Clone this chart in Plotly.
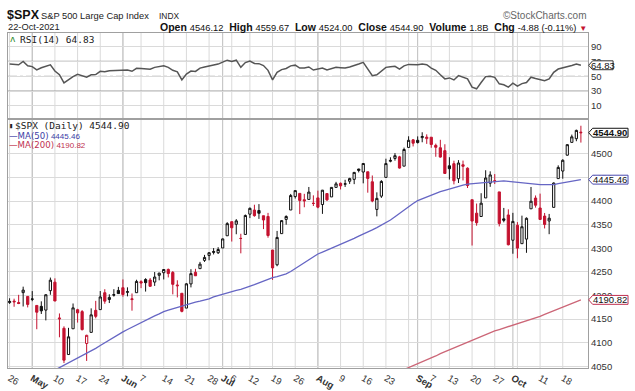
import plotly.graph_objects as go

# ---------------- data (S&P 500 daily, 26-Apr-2021 .. 22-Oct-2021) ----------------
dates = (["Apr 26", "Apr 27", "Apr 28", "Apr 29", "Apr 30"] +
         ["May %d" % d for d in [3, 4, 5, 6, 7, 10, 11, 12, 13, 14, 17, 18, 19, 20, 21, 24, 25, 26, 27, 28]] +
         ["Jun %d" % d for d in [1, 2, 3, 4, 7, 8, 9, 10, 11, 14, 15, 16, 17, 18, 21, 22, 23, 24, 25, 28, 29, 30]] +
         ["Jul %d" % d for d in [1, 2, 6, 7, 8, 9, 12, 13, 14, 15, 16, 19, 20, 21, 22, 23, 26, 27, 28, 29, 30]] +
         ["Aug %d" % d for d in [2, 3, 4, 5, 6, 9, 10, 11, 12, 13, 16, 17, 18, 19, 20, 23, 24, 25, 26, 27, 30, 31]] +
         ["Sep %d" % d for d in [1, 2, 3, 7, 8, 9, 10, 13, 14, 15, 16, 17, 20, 21, 22, 23, 24, 27, 28, 29, 30]] +
         ["Oct %d" % d for d in [1, 4, 5, 6, 7, 8, 11, 12, 13, 14, 15, 18, 19, 20, 21, 22]])

prev_close = 4180.17

opens = [4185.03, 4188.25, 4185.14, 4206.14, 4198.10, 4191.98, 4179.04, 4177.06, 4169.14, 4210.34,
         4228.29, 4150.34, 4130.55, 4074.99, 4129.58, 4169.92, 4165.94, 4098.45, 4121.97, 4168.61,
         4170.16, 4205.94, 4191.59, 4201.94, 4210.77,
         4216.52, 4206.82, 4191.43, 4206.05, 4229.34, 4233.81, 4232.99, 4228.56, 4242.90, 4248.31,
         4255.28, 4248.87, 4220.37, 4204.78, 4173.40, 4224.61, 4249.27, 4256.97, 4274.45, 4284.90,
         4293.21, 4290.65,
         4300.73, 4326.60, 4356.46, 4351.01, 4321.07, 4329.38, 4372.41, 4381.07, 4380.11, 4369.02,
         4367.43, 4296.40, 4265.11, 4331.13, 4361.27, 4381.20, 4409.58, 4416.38, 4402.95, 4403.59,
         4395.12,
         4406.86, 4392.74, 4415.95, 4408.86, 4429.07, 4437.77, 4435.79, 4442.18, 4446.08, 4464.84,
         4461.65, 4462.12, 4440.94, 4382.44, 4410.56, 4450.29, 4484.40, 4490.45, 4493.75, 4474.10,
         4513.76, 4529.75,
         4528.80, 4534.48, 4532.42, 4535.38, 4518.09, 4513.02, 4506.92, 4474.81, 4479.33, 4447.49,
         4477.09, 4469.74, 4402.95, 4374.45, 4367.43, 4406.75, 4438.04, 4442.12, 4419.54, 4362.41,
         4370.67,
         4317.16, 4348.84, 4309.87, 4319.57, 4383.73, 4406.51, 4385.44, 4368.31, 4358.01, 4386.75,
         4447.69, 4463.72, 4497.34, 4524.42, 4532.24, 4546.12]

highs = [4194.19, 4193.35, 4201.53, 4218.78, 4198.10, 4209.39, 4179.04, 4187.72, 4202.70, 4238.04,
         4236.39, 4162.04, 4134.73, 4131.58, 4183.13, 4171.92, 4169.15, 4116.93, 4172.80, 4188.72,
         4209.52, 4213.42, 4202.61, 4213.38, 4218.36,
         4234.12, 4217.37, 4204.39, 4233.45, 4232.34, 4236.74, 4237.09, 4249.74, 4248.38, 4255.59,
         4257.16, 4251.89, 4232.29, 4204.78, 4226.24, 4255.84, 4256.60, 4271.28, 4286.12, 4292.14,
         4300.52, 4302.43,
         4320.66, 4355.43, 4356.46, 4361.88, 4330.88, 4371.60, 4386.68, 4392.37, 4393.68, 4369.02,
         4375.09, 4296.40, 4336.84, 4359.70, 4369.87, 4415.18, 4422.73, 4416.38, 4415.47, 4429.97,
         4412.25,
         4422.18, 4423.79, 4416.17, 4429.76, 4440.82, 4439.39, 4445.21, 4449.44, 4461.77, 4468.37,
         4480.26, 4462.12, 4454.32, 4418.61, 4444.35, 4489.88, 4492.81, 4501.71, 4495.90, 4513.33,
         4537.36, 4531.39,
         4537.11, 4545.85, 4541.45, 4535.38, 4521.79, 4529.90, 4520.47, 4492.99, 4485.68, 4486.87,
         4485.87, 4471.52, 4402.95, 4394.87, 4416.75, 4465.40, 4463.12, 4457.30, 4419.54, 4385.57,
         4382.55,
         4375.19, 4355.51, 4369.23, 4365.57, 4429.97, 4412.02, 4415.88, 4374.89, 4372.87, 4439.73,
         4475.82, 4488.75, 4520.40, 4540.87, 4551.44, 4559.67]

lows = [4182.36, 4176.22, 4181.78, 4176.81, 4174.85, 4188.03, 4128.59, 4160.94, 4147.33, 4201.64,
        4188.13, 4111.53, 4056.88, 4074.99, 4129.58, 4142.69, 4125.99, 4061.41, 4121.97, 4151.72,
        4170.16, 4182.52, 4184.11, 4197.78, 4203.57,
        4197.59, 4198.27, 4167.93, 4206.05, 4215.66, 4208.41, 4218.74, 4220.34, 4232.25, 4234.07,
        4238.35, 4202.45, 4196.05, 4164.40, 4173.40, 4217.27, 4241.43, 4256.97, 4271.16, 4274.67,
        4287.04, 4287.96,
        4300.73, 4326.60, 4314.37, 4329.79, 4289.37, 4329.38, 4364.03, 4366.92, 4362.36, 4340.70,
        4322.53, 4233.13, 4262.05, 4331.13, 4350.06, 4381.20, 4405.45, 4372.51, 4387.01, 4403.59,
        4389.65,
        4384.81, 4373.00, 4400.23, 4408.86, 4429.07, 4424.74, 4430.03, 4436.42, 4435.96, 4460.82,
        4437.66, 4417.83, 4397.59, 4367.73, 4406.80, 4450.29, 4482.28, 4485.66, 4468.99, 4474.10,
        4513.76, 4515.80,
        4522.02, 4524.66, 4521.30, 4513.00, 4493.95, 4492.07, 4457.66, 4445.70, 4435.46, 4438.37,
        4443.80, 4427.76, 4305.91, 4347.96, 4367.43, 4406.75, 4430.27, 4436.19, 4346.33, 4355.08,
        4306.24,
        4288.52, 4278.94, 4309.87, 4290.49, 4383.73, 4386.22, 4360.59, 4342.09, 4329.92, 4386.75,
        4447.69, 4447.47, 4496.41, 4524.40, 4526.89, 4524.00]

closes = [4187.62, 4186.72, 4183.18, 4211.47, 4181.17, 4192.66, 4164.66, 4167.59, 4201.62, 4232.60,
          4188.43, 4152.10, 4063.04, 4112.50, 4173.85, 4163.29, 4127.83, 4115.68, 4159.12, 4155.86,
          4197.05, 4188.13, 4195.99, 4200.88, 4204.11,
          4202.04, 4208.12, 4192.85, 4229.89, 4226.52, 4227.26, 4219.55, 4239.18, 4247.44, 4255.15,
          4246.59, 4223.70, 4221.86, 4166.45, 4224.79, 4246.44, 4241.84, 4266.49, 4280.70, 4290.61,
          4291.80, 4297.50,
          4319.94, 4352.34, 4343.54, 4358.13, 4320.82, 4369.55, 4384.63, 4369.21, 4374.30, 4360.03,
          4327.16, 4258.49, 4323.06, 4358.69, 4367.48, 4411.79, 4422.30, 4401.46, 4400.64, 4419.15,
          4395.26,
          4387.16, 4423.15, 4402.66, 4429.10, 4436.52, 4432.35, 4436.75, 4447.70, 4460.83, 4468.00,
          4479.71, 4448.08, 4400.27, 4405.80, 4441.67, 4479.53, 4486.23, 4496.19, 4470.00, 4509.37,
          4528.79, 4522.68,
          4524.09, 4536.95, 4535.43, 4520.03, 4514.07, 4493.28, 4458.58, 4468.73, 4443.05, 4480.70,
          4473.75, 4432.99, 4357.73, 4354.19, 4395.64, 4448.98, 4455.48, 4443.11, 4352.63, 4359.46,
          4307.54,
          4357.04, 4300.46, 4345.72, 4363.55, 4399.76, 4391.34, 4361.19, 4350.65, 4363.80, 4438.26,
          4471.37, 4486.46, 4519.63, 4536.19, 4549.78, 4544.90]

ma50 = [None, None, None, None, None, None, None, None, 4032, 4037,
        4042, 4047, 4052, 4057, 4062, 4067, 4072, 4077, 4082, 4088,
        4094, 4100, 4106, 4112, 4117, 4123, 4128, 4133, 4138, 4143,
        4148, 4152, 4157, 4161, 4166, 4169, 4172, 4175, 4178, 4181,
        4184, 4186, 4188, 4190, 4193, 4197, 4200, 4202, 4205, 4208,
        4211, 4213, 4216, 4219, 4223, 4227, 4231, 4235, 4238, 4240,
        4243, 4246, 4251, 4257, 4263, 4270, 4276, 4282, 4288, 4292,
        4296, 4300, 4304, 4308, 4312, 4317, 4321, 4326, 4330, 4335,
        4339, 4344, 4349, 4354, 4360, 4367, 4374, 4382, 4389, 4395,
        4401, 4405, 4409, 4413, 4417, 4420, 4423, 4426, 4429, 4432,
        4434, 4436, 4437, 4438, 4438, 4439, 4440, 4442, 4443, 4443,
        4442, 4441, 4439, 4438, 4437, 4436, 4436, 4435, 4435, 4435,
        4435, 4437, 4439, 4441, 4443, 4445, 4445.46]

ma200 = [None] * 85 + [4035, 4039, 4043, 4047, 4051,
                       4056, 4060, 4064, 4068, 4072, 4077, 4081, 4086, 4090, 4094,
                       4098, 4102, 4105, 4109, 4113, 4117, 4121, 4125, 4128, 4131,
                       4134, 4137, 4140, 4143, 4146, 4149, 4152, 4156, 4160, 4164,
                       4167, 4171, 4175, 4179, 4183, 4187, 4190.82]

rsi = [66.4, 66.0, 65.5, 70.0, 64.2, 63.0, 58.6, 61.5, 63.5, 65.5,
       57.0, 52.0, 41.0, 45.5, 49.5, 52.5, 50.5, 48.7, 52.0, 52.2,
       56.7, 56.0, 57.5, 57.8, 58.2, 58.4, 58.4, 56.7, 60.7, 60.3,
       60.0, 59.5, 62.0, 63.0, 64.0, 62.0, 58.0, 56.0, 45.0, 53.0,
       57.0, 56.5, 61.0, 62.5, 64.0, 64.5, 66.4, 69.0, 71.7, 70.0,
       71.7, 62.0, 68.5, 70.5, 67.3, 67.0, 64.5, 58.0, 45.0, 55.3,
       59.0, 60.5, 64.0, 65.0, 61.0, 61.0, 62.5, 58.4, 60.0, 61.0,
       58.4, 60.5, 62.0, 61.5, 61.0, 62.5, 64.0, 66.5, 68.7, 60.0,
       50.8, 52.0, 57.0, 62.0, 62.8, 63.5, 59.7, 64.0, 66.0, 65.5,
       65.5, 66.4, 65.5, 61.0, 58.0, 52.0, 46.4, 47.7, 45.0, 50.8,
       49.0, 46.4, 35.3, 33.0, 41.5, 49.5, 50.0, 48.5, 39.7, 38.5,
       35.3, 40.7, 36.7, 40.0, 41.5, 48.7, 47.0, 45.0, 44.0, 46.4,
       55.3, 59.7, 61.0, 62.8, 64.5, 66.4, 64.83]

tick_idx = [0, 5, 10, 15, 20, 25, 29, 34, 39, 44, 47, 49, 53, 58, 63, 68, 73, 78, 83,
            90, 93, 97, 102, 107, 111, 117, 122]
tick_text = ["26", "<b>May</b>", "10", "17", "24", "<b>Jun</b>", "7", "14", "21", "28",
             "<b>Jul</b>", "6", "12", "19", "26", "<b>Aug</b>", "9", "16", "23",
             "<b>Sep</b>", "7", "13", "20", "27", "<b>Oct</b>", "11", "18"]
week_starts = [0, 5, 10, 15, 20, 25, 29, 34, 39, 44, 49, 53, 58, 63, 68, 73, 78, 83, 88,
               93, 97, 102, 107, 112, 117, 122]
month_starts = [5, 25, 47, 68, 90, 111]

price_ticks = [4050, 4100, 4150, 4200, 4250, 4300, 4350, 4400, 4450, 4500]
rsi_ticks = [10, 30, 50, 70, 90]
rsi_levels = [30, 70]
rsi_mid = 50

last_close, last_ma50, last_ma200, last_rsi = 4544.90, 4445.46, 4190.82, 64.83

# ---------------- layout helpers ----------------
W, H = 635, 391
def px(x):
    return x / W
def py(y):
    return 1 - y / H

X_L, X_R = 6, 588
P_TOP, P_BOT = 121, 373
R_TOP = 33
PRICE_RANGE = [4046, 4573]
RSI_RANGE = [-8.4, 109]

RED = "#c4122f"
BLACK = "#111111"
BLUE_LINE = "#6666c4"
RED_LINE = "#cc6677"
GRID = "#dadada"
MONTH_GRID = "#bdbdbd"

n = len(closes)
xs = list(range(n))

# classify candles (StockCharts: colour by prev close, fill by open/close)
idx_black, idx_red = [], []
pc = prev_close
for i in range(n):
    (idx_black if closes[i] >= pc else idx_red).append(i)
    pc = closes[i]

def sub(arr, ids):
    return [arr[i] for i in ids]

fig = go.Figure()

fig.add_trace(go.Candlestick(
    x=idx_black, open=sub(opens, idx_black), high=sub(highs, idx_black),
    low=sub(lows, idx_black), close=sub(closes, idx_black),
    increasing=dict(line=dict(color=BLACK, width=1), fillcolor="white"),
    decreasing=dict(line=dict(color=BLACK, width=1), fillcolor=BLACK),
    whiskerwidth=0, xaxis="x", yaxis="y", hoverinfo="skip", showlegend=False))
fig.add_trace(go.Candlestick(
    x=idx_red, open=sub(opens, idx_red), high=sub(highs, idx_red),
    low=sub(lows, idx_red), close=sub(closes, idx_red),
    increasing=dict(line=dict(color=RED, width=1), fillcolor="white"),
    decreasing=dict(line=dict(color=RED, width=1), fillcolor=RED),
    whiskerwidth=0, xaxis="x", yaxis="y", hoverinfo="skip", showlegend=False))

fig.add_trace(go.Scatter(x=xs, y=ma50, mode="lines", line=dict(color=BLUE_LINE, width=1.3),
                         xaxis="x", yaxis="y", hoverinfo="skip", showlegend=False))
fig.add_trace(go.Scatter(x=xs, y=ma200, mode="lines", line=dict(color=RED_LINE, width=1.3),
                         xaxis="x", yaxis="y", hoverinfo="skip", showlegend=False))

fig.add_trace(go.Scatter(x=xs, y=rsi, mode="lines", line=dict(color="#555555", width=1.5),
                         xaxis="x2", yaxis="y2", hoverinfo="skip", showlegend=False))

axis_common = dict(showline=True, mirror=True, linecolor="#a0a0a0", linewidth=1,
                   zeroline=False, ticks="", ticklen=0, fixedrange=True)
tickfont = dict(family="Liberation Sans, Arial, sans-serif", size=9.5, color="#333333")

x_domain = [px(X_L), px(X_R)]
x_range = [-0.35, 127.6]

fig.update_layout(
    width=W, height=H, autosize=False,
    margin=dict(l=0, r=0, t=0, b=0),
    paper_bgcolor="white", plot_bgcolor="white",
    showlegend=False,
    xaxis=dict(domain=x_domain, range=x_range, anchor="y", tickmode="array",
               tickvals=tick_idx, ticktext=tick_text, showgrid=False,
               tickfont=tickfont, rangeslider=dict(visible=False), **axis_common),
    xaxis2=dict(domain=x_domain, range=x_range, anchor="y2", matches="x",
                showticklabels=False, showgrid=False, **axis_common),
    yaxis=dict(domain=[py(P_BOT), py(P_TOP)], range=PRICE_RANGE, side="right",
               tickmode="array", tickvals=price_ticks, showgrid=True, gridcolor=GRID,
               tickfont=tickfont, anchor="x", **axis_common),
    yaxis2=dict(domain=[py(P_TOP), py(R_TOP)], range=RSI_RANGE, side="right",
                tickmode="array", tickvals=rsi_ticks, showgrid=True, gridcolor=GRID,
                tickfont=tickfont, anchor="x2", **axis_common),
)

shapes = []
# vertical grid lines (weekly) and month separators
for w in week_starts:
    shapes.append(dict(type="line", xref="x", yref="paper", x0=w, x1=w,
                       y0=py(P_BOT), y1=py(R_TOP), line=dict(color=GRID, width=1), layer="below"))
for m in month_starts:
    shapes.append(dict(type="line", xref="x", yref="paper", x0=m, x1=m,
                       y0=py(P_BOT), y1=py(R_TOP), line=dict(color=MONTH_GRID, width=1), layer="below"))
# RSI reference lines
for lv in rsi_levels:
    shapes.append(dict(type="line", xref="paper", yref="y2", x0=px(X_L), x1=px(X_R), y0=lv, y1=lv,
                       line=dict(color="#9a9a9a", width=1.2), layer="below"))
shapes.append(dict(type="line", xref="paper", yref="y2", x0=px(X_L), x1=px(X_R), y0=rsi_mid, y1=rsi_mid,
                   line=dict(color="#a8a8a8", width=1.2, dash="dashdot"), layer="below"))

annotations = []

def tag(value, yref, units_per_px, x_end, color, text, bold=False, size=9.5):
    h = 4.5 * units_per_px
    x0 = px(X_R + 0.5)
    xn = px(X_R + 4.5)
    x1 = px(x_end)
    path = (f"M {x0},{value} L {xn},{value + h} L {x1},{value + h} "
            f"L {x1},{value - h} L {xn},{value - h} Z")
    shapes.append(dict(type="path", xref="paper", yref=yref, path=path,
                       fillcolor="white", line=dict(color=color, width=1), layer="above"))
    t = f"<b>{text}</b>" if bold else text
    annotations.append(dict(xref="paper", yref=yref, x=(xn + x1) / 2, y=value, text=t,
                            showarrow=False, xanchor="center", yanchor="middle",
                            font=dict(family="Liberation Sans, Arial, sans-serif", size=size,
                                      color="#111111")))

p_upp = (PRICE_RANGE[1] - PRICE_RANGE[0]) / (P_BOT - P_TOP)
r_upp = (RSI_RANGE[1] - RSI_RANGE[0]) / (P_TOP - R_TOP)
tag(last_rsi, "y2", r_upp, 613, "#333333", f"{last_rsi:.2f}")
tag(last_close, "y", p_upp, 628, "#111111", f"{last_close:.2f}", bold=True)
tag(last_ma50, "y", p_upp, 628, "#4a4ab0", f"{last_ma50:.2f}")
tag(last_ma200, "y", p_upp, 628, "#c03050", f"{last_ma200:.2f}")

SANS = "Liberation Sans, Arial, sans-serif"
MONO = "DejaVu Sans Mono, monospace"

def note(x, y, text, size=9.5, color="#222222", family=SANS, xanchor="left"):
    annotations.append(dict(xref="paper", yref="paper", x=px(x), y=py(y), text=text,
                            showarrow=False, xanchor=xanchor, yanchor="middle",
                            font=dict(family=family, size=size, color=color), borderpad=0))

note(4, 15.5, "<b>$SPX</b>", size=12.5, color="#111111")
note(38, 16, "S&P 500 Large Cap Index", size=9.3)
note(156, 16, "INDX", size=8.4)
note(588, 15.5, "©StockCharts.com", size=10, color="#666666", xanchor="right")
note(5, 27.5, "22-Oct-2021", size=9.3)
hdr = ("<b>Open</b> <span style='font-size:9.3px'>4546.12</span>  "
       "<b>High</b> <span style='font-size:9.3px'>4559.67</span>  "
       "<b>Low</b> <span style='font-size:9.3px'>4524.00</span>  "
       "<b>Close</b> <span style='font-size:9.3px'>4544.90</span>  "
       "<b>Volume</b> <span style='font-size:9.3px'>1.8B</span>  "
       "<b>Chg</b> <span style='font-size:9.3px'>-4.88 (-0.11%)</span> "
       "<span style='color:#c4122f;font-size:8px'>▼</span>")
note(588, 27.5, hdr, size=10.5, color="#111111", xanchor="right")

note(7, 40, "<span style='color:#2a8a2a'>ʌ</span>", size=9, family=MONO)
note(17, 40, f"RSI(14) {last_rsi:.2f}", size=9.5, family=MONO, color="#222222")
note(6, 127.5, "<span style='font-size:7px'>▮</span>", size=8, family=MONO)
note(12, 127.5, f"$SPX (Daily) {last_close:.2f}", size=9.5, family=MONO, color="#222222")
note(6, 137.5, "<span style='font-family:DejaVu Sans'>—MA(50)</span> "
     f"<span style='font-size:8px'>{last_ma50:.2f}</span>", size=8.6, color="#3c3ca6")
note(6, 147, "<span style='font-family:DejaVu Sans'>—MA(200)</span> "
     f"<span style='font-size:8px'>{last_ma200:.2f}</span>", size=8.6, color="#c03050")

fig.update_layout(shapes=shapes, annotations=annotations)

fig.write_html("out.html", config={"displayModeBar": False, "staticPlot": True},
               post_script="document.body.style.margin='0';document.body.style.padding='0';")
